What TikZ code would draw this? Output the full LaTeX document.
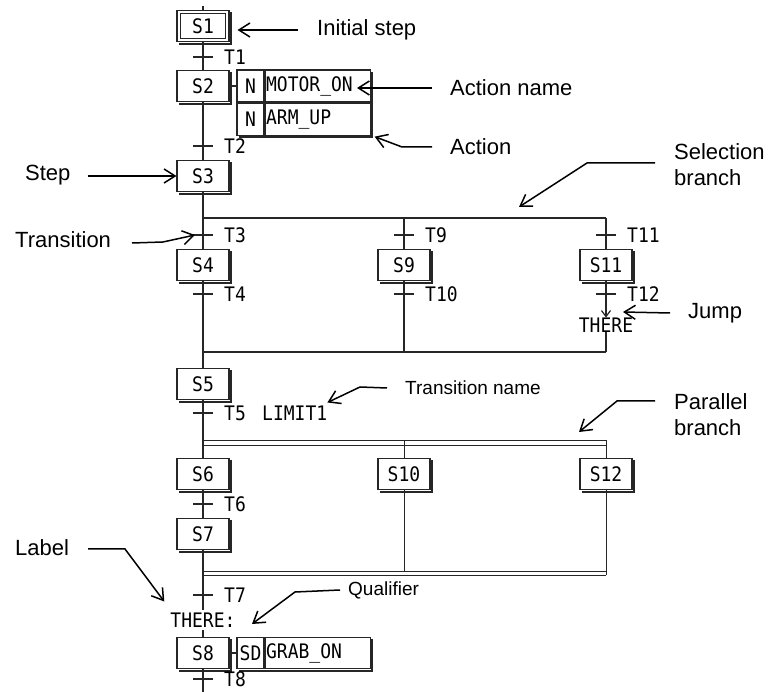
\documentclass[tikz,border=0pt]{standalone}
\usepackage{fontspec}
\setmainfont{Liberation Sans}
\newfontfamily\plc[FakeStretch=0.9]{DejaVu Sans Mono}
\usetikzlibrary{arrows.meta,calc}
\newcommand{\plcf}{\plc\fontsize{20pt}{22pt}\selectfont}
\newcommand{\annf}{\fontsize{22pt}{26pt}\selectfont}
\newcommand{\annsf}{\fontsize{19pt}{22pt}\selectfont}
\newcommand{\trans}[4]{%
  \coordinate (#1) at (#2,#3);
  \draw[ln] ([xshift=-10pt]#1) -- ([xshift=10pt]#1);
  \node[plct,anchor=west] (#1l) at ([xshift=21pt]#1) {#4};}
% shadow on right and bottom edge: #1 = top-right node, #2 = bottom-right node, #3 = bottom-left node
\newcommand{\boxshadow}[3]{%
  \draw[shd] ($(#1.north east)+(1.6,2.5)$) -- ($(#2.south east)+(1.6,1.6)$) -- ($(#3.south west)+(2.5,1.6)$);}
\begin{document}
\begin{tikzpicture}[x=1pt,y=-1pt,
  ln/.style={draw=black!85,line width=1.2pt},
  thinln/.style={draw=black!85,line width=1pt},
  shd/.style={draw=black!85,line width=2pt},
  stepbox/.style={draw=black!85,line width=1.1pt,fill=white,minimum width=52pt,minimum height=31pt,inner sep=0pt,font=\plcf},
  qualcell/.style={draw=black!85,line width=1.1pt,fill=white,minimum width=27pt,minimum height=32pt,inner sep=0pt,font=\plcf},
  namecell/.style={draw=black!85,line width=1.1pt,fill=white,text width=103pt,inner xsep=1pt,inner ysep=0pt,minimum height=32pt,align=left,font=\plcf},
  plct/.style={inner sep=0pt,font=\plcf},
  ann/.style={inner sep=0pt,font=\annf,align=left},
  anns/.style={inner sep=0pt,font=\annsf},
  pointer/.style={draw=black,line width=1.5pt,-{Straight Barb[length=11pt,width=14pt,line width=1.5pt]}},
  smallarrow/.style={ln,-{Straight Barb[length=6pt,width=9pt,line width=1.2pt]}},
]
\useasboundingbox (0,0) rectangle (769,692);

% ---------- coordinates for branches ----------
\coordinate (top) at (203,6);
\coordinate (bot) at (203,692);
\coordinate (selL) at (203,218);
\coordinate (selM) at (404,218);
\coordinate (selR) at (606,218);
\coordinate (cselL) at (203,352);
\coordinate (cselM) at (404,352);
\coordinate (cselR) at (606,352);
\coordinate (parL) at (203,441);
\coordinate (parR) at (606,441);
\coordinate (parL2) at (203,446);
\coordinate (parR2) at (606,446);
\coordinate (parM) at (404,441);
\coordinate (cparL) at (203,571);
\coordinate (cparR) at (606,571);
\coordinate (cparL2) at (203,575);
\coordinate (cparR2) at (606,575);
\coordinate (cparM) at (404,571);

% ---------- main vertical and branch lines (behind boxes) ----------
\draw[ln] (top) -- (bot);
\draw[ln] (selL) -- (selR);
\draw[ln] (cselL) -- (cselR);
\draw[thinln] (parL) -- (parR) -- (parR2) -- (parL2);
\draw[thinln] (cparL) -- (cparR);
\draw[thinln] (cparL2) -- (cparR2);

% ---------- steps ----------
\node[stepbox] (s1) at (203,26) {S1};
\draw[thinln] ([shift={(4.5pt,-4pt)}]s1.north west) rectangle ([shift={(-4.5pt,4pt)}]s1.south east);
\node[stepbox] (s2) at (203,86) {S2};
\node[stepbox] (s3) at (203,176) {S3};
\node[stepbox] (s4) at (203,265) {S4};
\node[stepbox] (s9) at (404,265) {S9};
\node[stepbox] (s11) at (606,265) {S11};
\node[stepbox] (s5) at (203,384) {S5};
\node[stepbox] (s6) at (203,474) {S6};
\node[stepbox] (s10) at (404,474) {S10};
\node[stepbox] (s12) at (606,474) {S12};
\node[stepbox] (s7) at (203,534) {S7};
\node[stepbox] (s8) at (203,653) {S8};
\foreach \s in {s1,s2,s3,s4,s9,s11,s5,s6,s10,s12,s7,s8} {\boxshadow{\s}{\s}{\s}}

% ---------- actions ----------
\node[qualcell] (n1) at (250.5,86) {N};
\node[namecell,anchor=west] (a1) at (n1.east) {MOTOR\_ON};
\node[qualcell,anchor=north] (n2) at (n1.south) {N};
\node[namecell,anchor=west] (a2) at (n2.east) {ARM\_UP};
\boxshadow{a1}{a2}{n2}
\draw[ln] (s2.east) -- (n1.west);

\node[qualcell,minimum height=31pt] (sd) at (250.5,653) {SD};
\node[namecell,minimum height=31pt,anchor=west] (grab) at (sd.east) {GRAB\_ON};
\boxshadow{grab}{grab}{sd}
\draw[ln] (s8.east) -- (sd.west);

% ---------- branch verticals ----------
\draw[ln] (selM) -- (s9.north);
\draw[ln] (s9.south) -- (cselM);
\draw[ln] (selR) -- (s11.north);
\node[plct] (there1) at (606,325) {THERE};
\draw[smallarrow] (s11.south) -- (there1.north);
\draw[ln] (there1.south) -- (cselR);
\draw[thinln] (parM) -- (s10.north);
\draw[thinln] (parR) -- (s12.north);
\draw[thinln] (s10.south) -- (cparM);
\draw[thinln] (s12.south) -- (cparR2);

% ---------- transitions ----------
\trans{t1}{203}{57}{T1}
\trans{t2}{203}{146}{T2}
\trans{t3}{203}{235}{T3}
\trans{t9}{404}{235}{T9}
\trans{t11}{606}{235}{T11}
\trans{t4}{203}{294}{T4}
\trans{t10}{404}{294}{T10}
\trans{t12}{606}{294}{T12}
\trans{t5}{203}{413}{T5}
\trans{t6}{203}{504}{T6}
\trans{t7}{203}{595}{T7}
\trans{t8}{203}{679}{T8}
\node[plct,anchor=west] (limit) at (262,413) {LIMIT1};

% label THERE:
\node[plct,fill=white,inner ysep=3pt] (there2) at (203,620) {THERE:};

% ---------- annotations ----------
\node[ann,anchor=west] (ini) at (317,30) {Initial step};
\draw[pointer,shorten >=8pt] ([xshift=-19pt]ini.west) -- (s1.east |- ini.west);

\node[ann,anchor=west] (actn) at (450,88) {Action name};
\coordinate (actnTip) at (357,88);
\draw[pointer] ([xshift=-18pt]actn.west) -- (actnTip);

\node[ann,anchor=west] (act) at (450,147) {Action};
\coordinate (actB) at (402,147);
\draw[pointer] ([xshift=-18pt]act.west) -- (actB) -- ([xshift=4pt,yshift=-1pt]a2.south east);

\node[ann,anchor=west] (stp) at (25,175) {Step};
\draw[pointer,shorten <=17pt] (stp.east |- s3.west) -- (s3.west);

\node[ann,anchor=west] (trn) at (15,240) {Transition};
\coordinate (trA) at (132,243);
\coordinate (trB) at (163,242);
\draw[pointer] (trA) -- (trB) -- ([xshift=-8pt]t3);

\node[ann,anchor=north west] (sel) at (674,143) {Selection\\branch};
\coordinate (selA) at (655,163);
\coordinate (selB) at (587,163);
\coordinate (selTip) at (519,207);
\draw[pointer] (selA) -- (selB) -- (selTip);

\node[ann,anchor=west] (jmp) at (688,313) {Jump};
\coordinate (jmpTip) at (623,312);
\draw[pointer] ([xshift=-18pt]jmp.west) -- (jmpTip);

\node[anns,anchor=west] (tnm) at (405,388) {Transition name};
\coordinate (tnA) at (360,387);
\draw[pointer] ([xshift=-18pt]tnm.west) -- (tnA) -- ($(limit.north east)+(0,-3)$);

\node[ann,anchor=north west] (par) at (674,393) {Parallel\\branch};
\coordinate (parA) at (655,401);
\coordinate (parB) at (617,401);
\coordinate (parTip) at (579,432);
\draw[pointer] (parA) -- (parB) -- (parTip);

\node[ann,anchor=west] (lbl) at (15,548) {Label};
\coordinate (lbA) at (88,549);
\coordinate (lbB) at (125,549);
\draw[pointer] (lbA) -- (lbB) -- ($(there2.north west)+(-6,-8)$);

\node[anns,anchor=west] (qual) at (348,590) {Qualifier};
\coordinate (quB) at (295,592);
\draw[pointer] ([xshift=-8pt]qual.west) -- (quB) -- (252,624);
\end{tikzpicture}
\end{document}
